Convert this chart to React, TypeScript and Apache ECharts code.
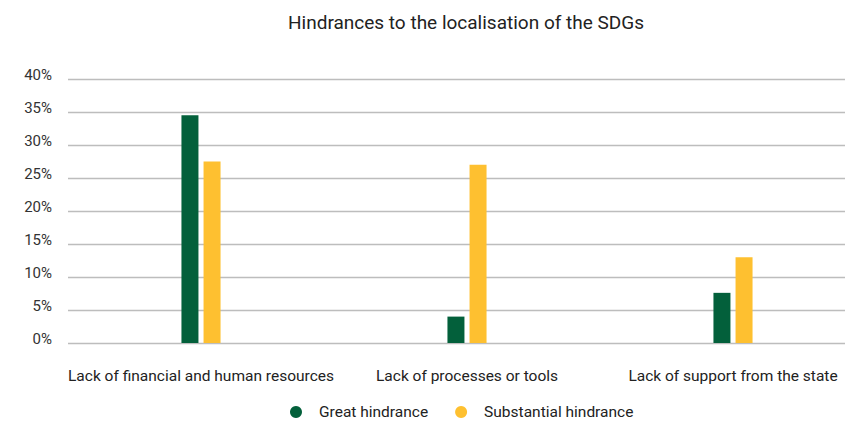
import React, { useEffect, useRef } from "react";
import * as echarts from "echarts";

const categories = [
  "Lack of financial and human resources",
  "Lack of processes or tools",
  "Lack of support from the state",
];
const greatHindrance = [34.5, 4.0, 7.6];
const substantialHindrance = [27.5, 27.0, 13.0];
const seriesNames = ["Great hindrance", "Substantial hindrance"];

export default function App() {
  const ref = useRef<HTMLDivElement>(null);
  useEffect(() => {
    const chart = echarts.init(ref.current!, null, { renderer: "svg" });
    const font = "Roboto, 'Noto Sans', sans-serif";
    chart.setOption({
      animation: false,
      textStyle: { fontFamily: font },
      title: {
        text: "Hindrances to the localisation of the SDGs",
        left: 461,
        textAlign: "center",
        top: 8,
        textStyle: { fontFamily: font, fontSize: 19, fontWeight: "normal", color: "#222" },
      },
      legend: {
        data: seriesNames,
        top: 404,
        left: 290,
        padding: 0,
        icon: "circle",
        itemWidth: 12,
        itemHeight: 12,
        itemGap: 27,
        formatter: (name: string) => `{s|}{t|${name}}`,
        textStyle: {
          fontFamily: font,
          fontSize: 15.5,
          color: "#222",
          rich: {
            s: { width: 12 },
            t: { fontFamily: font, fontSize: 15.5, color: "#222", lineHeight: 16 },
          },
        },
      },
      grid: { left: 68, width: 798, top: 79, bottom: 80 },
      xAxis: {
        type: "category",
        data: categories,
        axisLine: { show: false },
        axisTick: { show: false },
        axisLabel: { margin: 25, fontFamily: font, fontSize: 15.5, color: "#222", interval: 0 },
      },
      yAxis: {
        type: "value",
        min: 0,
        max: 40,
        interval: 5,
        axisLabel: {
          formatter: "{value}%",
          fontFamily: font,
          fontSize: 15,
          color: "#333",
          margin: 16,
          verticalAlign: "bottom",
          lineHeight: 9,
        },
        splitLine: { lineStyle: { color: "#bdbdbd", width: 1.3 } },
        axisLine: { show: false },
        axisTick: { show: false },
      },
      series: [
        {
          name: seriesNames[0],
          type: "bar",
          data: greatHindrance,
          barWidth: 17,
          barGap: "30%",
          itemStyle: { color: "#03603b" },
        },
        {
          name: seriesNames[1],
          type: "bar",
          data: substantialHindrance,
          barWidth: 17,
          itemStyle: { color: "#fec030" },
        },
      ],
    });
    return () => chart.dispose();
  }, []);
  return (
    <div style={{ width: 853, height: 423, overflow: "hidden", marginLeft: -8, marginTop: -8 }}>
      <div ref={ref} style={{ width: 867, height: 423 }} />
    </div>
  );
}
